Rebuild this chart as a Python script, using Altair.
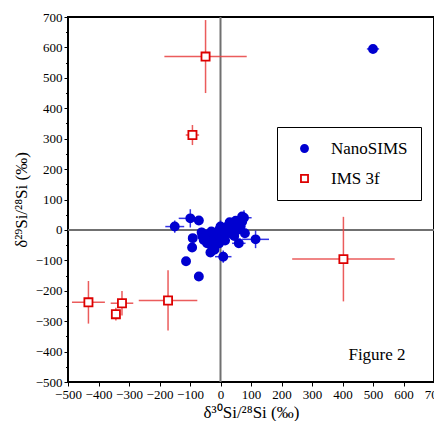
import altair as alt
import pandas as pd

# NanoSIMS grains: delta30, delta29, 1-sigma errors
nano_x = [500, -150, -99, -71, -62, -91, -93, -113, -71, -33, 9, 60, 77, 115, 80,
          0, 38, 60, 71, -55, -44, -27, -16, -11, 5, 22, 33, 44, 55, 66, 71,
          -60, -38, -25, -5, -20, -45, 10, 20, 30, 50, -5, -30, 15, 45]
nano_y = [595, 11, 38, 31, -8, -27, -58, -103, -153, -74, -88, -44, 40, -31, -11,
          11, 16, 22, 27, -33, -44, -55, -33, -16, -11, -5, -11, 5, 0, 11, 44,
          -20, -25, -40, -45, -65, -15, -25, 10, 25, 30, 0, -5, -35, -20]
nano_ex = [20, 31, 38, 15, 15, 15, 15, 10, 12, 15, 27, 22, 25, 44, 15,
           15, 15, 15, 15, 15, 15, 15, 15, 15, 15, 15, 15, 15, 15, 15, 15,
           12, 12, 12, 12, 12, 12, 12, 12, 12, 12, 12, 12, 12, 12]
nano_ey = [8, 20, 30, 15, 15, 12, 15, 8, 8, 15, 20, 12, 25, 29, 12,
           20, 15, 15, 15, 15, 15, 15, 15, 15, 15, 15, 15, 15, 15, 15, 15,
           12, 12, 12, 12, 12, 12, 12, 12, 12, 12, 12, 12, 12, 12]

# IMS 3f grains
ims_x = [-49, -92, 403, -433, -323, -343, -172]
ims_y = [570, 312, -96, -238, -241, -277, -232]
ims_ex = [135, 22, 168, 54, 37, 15, 96]
ims_ey = [120, 33, 139, 70, 40, 21, 99]

series_names = ["NanoSIMS", "IMS 3f"]
tick_values = list(range(-500, 701, 100))
minor_values = list(range(-450, 700, 100))

nano = pd.DataFrame({"x": nano_x, "y": nano_y, "ex": nano_ex, "ey": nano_ey})
nano["series"] = "NanoSIMS"
ims = pd.DataFrame({"x": ims_x, "y": ims_y, "ex": ims_ex, "ey": ims_ey})
ims["series"] = "IMS 3f"
df = pd.concat([nano, ims], ignore_index=True)
df["xlo"] = df["x"] - df["ex"]
df["xhi"] = df["x"] + df["ex"]
df["ylo"] = df["y"] - df["ey"]
df["yhi"] = df["y"] + df["ey"]

FONT = "Liberation Serif"
xs = alt.Scale(domain=[-500, 700], nice=False, zero=False)
ys = alt.Scale(domain=[-500, 700], nice=False, zero=False)

x_axis = alt.Axis(values=tick_values, title="δ³⁰Si/²⁸Si (‰)", grid=False, domain=False,
                  tickSize=4, tickColor="black", labelFontSize=13,
                  labelColor="black", titleFontSize=17,
                  titleFontWeight="normal", titleColor="black", titlePadding=3,
                  labelPadding=2, labelFlush=False, labelOverlap=False,
                  labelSeparation=0, labelBound=False, orient="bottom")
y_axis = alt.Axis(values=tick_values, title="δ²⁹Si/²⁸Si (‰)", grid=False, domain=False,
                  tickSize=4, tickColor="black", labelFontSize=13,
                  labelColor="black", titleFontSize=17,
                  titleFontWeight="normal", titleColor="black", titlePadding=5,
                  labelPadding=2, orient="left", labelOverlap=False)
y_minor = alt.Axis(values=minor_values, labels=False, title=None, grid=False, domain=False,
                   tickSize=2.5, tickColor="black", orient="left")

zero_df = pd.DataFrame({"z": [0]})
vline = alt.Chart(zero_df).mark_rule(color="#707070", strokeWidth=2).encode(
    x=alt.X("z:Q", scale=xs, axis=None))
hline = alt.Chart(zero_df).mark_rule(color="#707070", strokeWidth=2).encode(
    y=alt.Y("z:Q", scale=ys, axis=y_minor))

err_color = alt.Color("series:N", scale=alt.Scale(domain=series_names,
                      range=["#1010e0", "#e84040"]), legend=None)

xerr = alt.Chart(df).mark_rule(strokeWidth=1.5, opacity=0.85).encode(
    x=alt.X("xlo:Q", scale=xs, axis=None), x2="xhi:Q",
    y=alt.Y("y:Q", scale=ys, axis=None), color=err_color)
yerr = alt.Chart(df).mark_rule(strokeWidth=1.5, opacity=0.85).encode(
    x=alt.X("x:Q", scale=xs, axis=None), y=alt.Y("ylo:Q", scale=ys, axis=None),
    y2="yhi:Q", color=err_color)

leg = alt.Legend(title=None, orient="none", legendX=209, legendY=110,
                 strokeColor="black", padding=13, labelFontSize=17,
                 labelColor="black", symbolSize=50, rowPadding=12, labelOffset=18,
                 symbolStrokeWidth=1.8, symbolOffset=6, fillColor="white")

pt_scale_color = alt.Scale(domain=series_names, range=["#0000d0", "#dd0000"])
points = alt.Chart(df).mark_point(filled=False, size=66, strokeWidth=1.8, opacity=1).encode(
    x=alt.X("x:Q", scale=xs, axis=x_axis),
    y=alt.Y("y:Q", scale=ys, axis=y_axis),
    stroke=alt.Stroke("series:N", scale=pt_scale_color, legend=leg),
    shape=alt.Shape("series:N", scale=alt.Scale(domain=series_names,
                    range=["circle", "square"]), legend=leg),
    fill=alt.Fill("series:N", scale=alt.Scale(domain=series_names,
                  range=["#0000d0", "white"]), legend=leg),
)

label_df = pd.DataFrame({"t": ["Figure 2"]})
fig_label = alt.Chart(label_df).mark_text(fontSize=17, color="black",
                                          align="center", baseline="middle").encode(
    x=alt.value(309), y=alt.value(338), text="t:N")

chart = alt.layer(vline, hline, xerr, yerr, points, fig_label).resolve_axis(
    x="independent", y="independent").resolve_scale(color="independent").properties(
    width=366, height=365,
    padding={"left": 60, "top": 9, "right": 0, "bottom": 39},
    autosize=alt.AutoSizeParams(type="none"),
    background="white",
).configure(font=FONT).configure_axis(
    labelFont=FONT, titleFont=FONT, labelOverlap=False
).configure_legend(labelFont=FONT).configure_view(stroke="black", strokeWidth=2)

chart.save("out.html", embed_options={"renderer": "svg", "actions": False})
